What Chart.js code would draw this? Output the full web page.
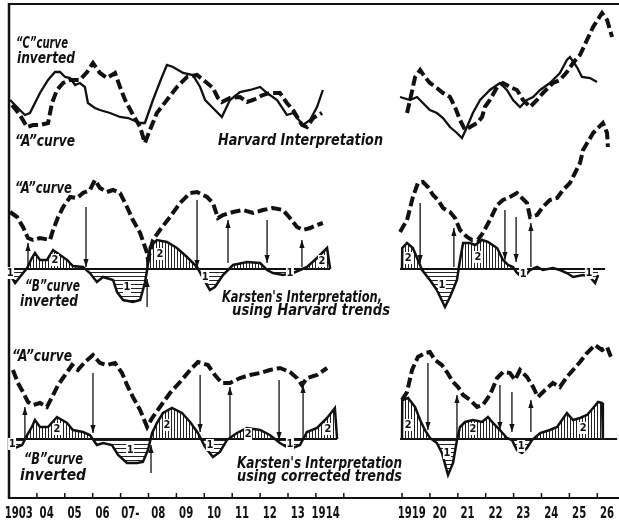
<!DOCTYPE html>
<html>
<head>
<meta charset="utf-8">
<style>
html,body{margin:0;padding:0;background:#fff;}
canvas{display:block;}
</style>
<script src="https://cdn.jsdelivr.net/npm/chart.js@4.4.1/dist/chart.umd.min.js"></script>
</head>
<body>
<canvas id="chart" width="619" height="524"></canvas>
<script>
// year labels along the bottom (two runs, the war years are cut out)
const leftFirstYear = 1903;
const leftYearLabels = ["1903", "04", "05", "06", "07-", "08", "09", "10", "11", "12", "13", "1914"];
const rightFirstYear = 1919;
const rightYearLabels = ["1919", "20", "21", "22", "23", "24", "25", "26"];

// Harvard interpretation: [year, index]
const harvardCLeft = [[1903.04,40],[1903.39,30],[1903.57,25],[1903.75,27],[1904.11,47],[1904.40,60],[1904.65,68],[1904.83,68],[1905.01,63],[1905.19,62],[1905.37,55],[1905.54,57],[1905.72,53],[1905.83,37],[1906.08,32],[1906.26,30],[1906.62,27],[1906.98,23],[1907.27,22],[1907.70,17],[1907.87,17],[1908.16,40],[1908.48,63],[1908.66,75],[1908.88,73],[1909.24,67],[1909.59,65],[1909.85,53],[1910.03,40],[1910.31,32],[1910.63,23],[1910.92,40],[1911.28,48],[1911.64,50],[1912.00,53],[1912.25,47],[1912.61,40],[1912.96,25],[1913.18,27],[1913.54,15],[1913.79,20],[1914.04,33],[1914.25,50]];
const harvardCRight = [[1918.93,43],[1919.29,40],[1919.54,43],[1919.75,37],[1920.00,30],[1920.25,27],[1920.47,22],[1920.72,13],[1920.97,7],[1921.15,2],[1921.33,13],[1921.54,27],[1921.80,40],[1922.15,50],[1922.51,57],[1922.76,50],[1922.98,40],[1923.23,33],[1923.48,40],[1923.70,43],[1923.95,50],[1924.30,57],[1924.66,67],[1924.91,80],[1925.02,83],[1925.27,73],[1925.45,63],[1925.74,62],[1925.99,58]];
const harvardALeft = [[1903.11,35],[1903.39,25],[1903.65,13],[1903.86,15],[1904.11,15],[1904.40,17],[1904.54,37],[1904.72,50],[1904.94,57],[1905.19,60],[1905.54,60],[1905.80,68],[1906.01,77],[1906.26,67],[1906.51,62],[1906.80,67],[1906.98,53],[1907.16,40],[1907.41,27],[1907.70,13],[1907.87,-3],[1908.05,10],[1908.30,27],[1908.66,40],[1909.02,53],[1909.38,63],[1909.74,65],[1910.10,57],[1910.31,52],[1910.49,42],[1910.63,38],[1910.92,42],[1911.28,43],[1911.53,38],[1911.75,40],[1912.10,45],[1912.35,47],[1912.71,47],[1912.96,37],[1913.18,30],[1913.50,15],[1913.68,13],[1913.90,22],[1914.22,27]];
const harvardARight = [[1919.18,27],[1919.29,40],[1919.47,63],[1919.65,70],[1919.82,63],[1920.00,57],[1920.25,52],[1920.47,47],[1920.72,43],[1920.90,33],[1921.08,20],[1921.26,10],[1921.44,13],[1921.69,17],[1921.87,23],[1921.97,33],[1922.15,40],[1922.41,53],[1922.62,57],[1922.87,53],[1923.12,50],[1923.34,40],[1923.59,33],[1923.84,40],[1924.05,47],[1924.41,57],[1924.66,60],[1924.91,68],[1925.13,77],[1925.38,85],[1925.63,100],[1925.85,113],[1926.17,127],[1926.35,120],[1926.53,103]];

// Karsten, using Harvard trends
const hTrendALeft = [[1903.04,57],[1903.29,52],[1903.50,42],[1903.68,31],[1903.86,29],[1904.11,31],[1904.47,29],[1904.58,39],[1904.76,52],[1904.94,62],[1905.19,72],[1905.44,71],[1905.65,76],[1905.90,79],[1906.08,89],[1906.26,81],[1906.51,77],[1906.73,79],[1906.98,76],[1907.23,62],[1907.44,49],[1907.70,36],[1907.95,16],[1907.98,9],[1908.16,29],[1908.41,39],[1908.77,52],[1909.13,66],[1909.49,76],[1909.74,77],[1910.10,72],[1910.31,66],[1910.49,51],[1910.67,54],[1911.03,57],[1911.39,59],[1911.75,56],[1912.10,59],[1912.46,61],[1912.82,59],[1913.07,51],[1913.32,42],[1913.54,39],[1913.79,41],[1914.04,44],[1914.25,46]];
const hTrendARight = [[1918.93,37],[1919.18,49],[1919.39,72],[1919.57,86],[1919.75,87],[1919.93,82],[1920.11,74],[1920.29,69],[1920.47,61],[1920.72,57],[1920.90,51],[1921.08,39],[1921.33,32],[1921.51,29],[1921.72,29],[1921.90,36],[1922.15,49],[1922.41,64],[1922.62,69],[1922.87,72],[1923.12,76],[1923.30,71],[1923.48,66],[1923.59,52],[1923.84,54],[1924.05,62],[1924.30,69],[1924.56,71],[1924.77,79],[1925.02,86],[1925.20,96],[1925.38,106],[1925.49,119],[1925.85,136],[1926.20,146],[1926.35,136],[1926.38,122]];
const hTrendBLeft = [[1903.00,-4],[1903.22,-14],[1903.39,-8],[1903.65,1],[1903.82,11],[1903.93,16],[1904.11,9],[1904.36,9],[1904.58,19],[1904.83,14],[1905.08,9],[1905.29,3],[1905.65,2],[1905.90,-4],[1906.15,-13],[1906.37,-8],[1906.73,-11],[1906.87,-23],[1907.09,-31],[1907.44,-33],[1907.70,-31],[1907.87,-14],[1907.95,-1],[1908.05,22],[1908.30,29],[1908.66,27],[1909.02,21],[1909.38,12],[1909.74,2],[1909.95,-9],[1910.20,-21],[1910.38,-18],[1910.67,-6],[1911.03,4],[1911.53,7],[1912.00,6],[1912.25,-1],[1912.46,-4],[1912.82,-6],[1913.18,-4],[1913.43,-1],[1913.68,2],[1914.04,11],[1914.40,21],[1914.51,0]];
const hTrendBRight = [[1919.00,0],[1919.01,21],[1919.18,26],[1919.39,21],[1919.57,9],[1919.72,-1],[1920.00,-11],[1920.25,-21],[1920.54,-38],[1920.72,-28],[1920.97,-11],[1921.08,9],[1921.19,26],[1921.44,26],[1921.62,24],[1921.87,29],[1922.08,27],[1922.41,21],[1922.62,9],[1922.80,4],[1922.98,2],[1923.12,-4],[1923.34,-9],[1923.59,-1],[1923.84,2],[1924.05,-1],[1924.41,1],[1924.66,-1],[1924.91,-4],[1925.13,-8],[1925.49,-6],[1925.74,-8],[1925.92,-14],[1926.03,-6]];
const hTrendZero = [[1903.00,1914.51],[1918.93,1926.28]];
// arrows: [year, from, to]
const hTrendArrows = [[1903.68,0,26],[1905.76,62,2],[1907.95,-38,-10],[1909.74,69,1],[1910.85,6,49],[1912.25,49,6],[1913.50,2,29],[1919.65,66,6],[1920.86,2,41],[1922.69,59,9],[1923.09,52,7],[1923.62,2,46]];
const hTrendMarks = [[1903.04,-4,"1"],[1904.65,9,"2"],[1907.23,-18,"1"],[1908.41,15,"2"],[1910.03,-8,"1"],[1913.07,-4,"1"],[1914.22,8,"2"],[1919.22,11,"2"],[1920.43,-16,"1"],[1921.72,12,"2"],[1923.34,-5,"1"],[1925.70,-4,"1"]];

// Karsten, using corrected trends
const corrALeft = [[1903.14,69],[1903.32,56],[1903.50,47],[1903.68,37],[1903.86,34],[1904.11,36],[1904.36,32],[1904.58,44],[1904.76,54],[1905.01,64],[1905.26,74],[1905.47,69],[1905.72,77],[1906.01,84],[1906.26,76],[1906.51,74],[1906.80,76],[1907.05,66],[1907.23,54],[1907.44,42],[1907.70,29],[1907.95,12],[1908.13,21],[1908.41,32],[1908.77,46],[1909.13,57],[1909.49,69],[1909.77,77],[1910.13,74],[1910.38,64],[1910.63,56],[1910.92,56],[1911.28,61],[1911.64,64],[1912.00,66],[1912.35,69],[1912.71,71],[1913.07,67],[1913.32,61],[1913.50,54],[1913.68,61],[1914.04,64],[1914.40,71]];
const corrARight = [[1919.00,39],[1919.18,47],[1919.36,69],[1919.57,82],[1919.82,86],[1920.00,87],[1920.18,79],[1920.43,74],[1920.61,67],[1920.83,57],[1921.01,52],[1921.19,44],[1921.44,39],[1921.69,32],[1921.90,34],[1922.15,44],[1922.41,61],[1922.62,67],[1922.87,66],[1923.05,59],[1923.23,69],[1923.48,62],[1923.70,52],[1923.87,42],[1924.13,49],[1924.41,56],[1924.66,52],[1924.91,62],[1925.13,69],[1925.38,77],[1925.63,86],[1925.92,94],[1926.17,89],[1926.35,92],[1926.53,79]];
const corrBLeft = [[1903.00,-7],[1903.22,-9],[1903.47,-6],[1903.65,4],[1903.82,12],[1903.93,19],[1904.11,12],[1904.40,12],[1904.72,22],[1905.08,16],[1905.29,9],[1905.65,7],[1905.90,4],[1906.15,-6],[1906.37,-4],[1906.69,-6],[1906.91,-16],[1907.23,-24],[1907.59,-24],[1907.80,-23],[1907.98,-11],[1908.13,6],[1908.30,16],[1908.52,26],[1908.84,31],[1909.20,26],[1909.49,17],[1909.77,6],[1910.03,-8],[1910.31,-18],[1910.56,-13],[1910.81,-1],[1911.17,6],[1911.53,11],[1912.00,9],[1912.35,4],[1912.71,-4],[1912.96,-8],[1913.18,-9],[1913.43,-6],[1913.68,7],[1914.04,11],[1914.40,21],[1914.68,31],[1914.76,0]];
const corrBRight = [[1919.00,0],[1919.01,39],[1919.22,41],[1919.47,32],[1919.65,19],[1919.82,9],[1920.00,1],[1920.25,-4],[1920.43,-14],[1920.65,-36],[1920.83,-24],[1920.97,-1],[1921.08,12],[1921.26,17],[1921.54,19],[1921.87,17],[1922.08,22],[1922.26,16],[1922.51,9],[1922.76,1],[1922.94,-1],[1923.12,-11],[1923.30,-14],[1923.48,-9],[1923.66,-1],[1923.95,6],[1924.30,9],[1924.56,12],[1924.91,26],[1925.13,19],[1925.38,21],[1925.63,24],[1925.85,31],[1926.03,37],[1926.17,36],[1926.20,0]];
const corrZero = [[1903.00,1914.76],[1918.93,1926.71]];
const corrArrows = [[1903.57,0,32],[1906.01,66,6],[1908.09,-34,-6],[1909.85,64,7],[1910.92,2,52],[1912.68,59,-1],[1913.54,-1,54],[1919.93,76,9],[1920.97,2,44],[1922.51,54,9],[1922.94,47,7],[1923.62,7,39]];
const corrMarks = [[1903.11,-5,"1"],[1904.72,10,"2"],[1907.34,-11,"1"],[1908.66,14,"2"],[1910.20,-6,"1"],[1911.57,5,"2"],[1913.07,-5,"1"],[1914.43,10,"2"],[1919.22,14,"2"],[1920.61,-14,"1"],[1921.54,10,"2"],[1923.27,-7,"1"],[1925.49,11,"2"]];

// panel baselines on the shared y scale
const BASE1 = 384, BASE2 = 255, BASE3 = 85;

// broken time axis: 1915-1918 are left out
function pos(year) {
  return year < 1917 ? year - 1903 : year - 1904.914;
}

function hatch(vertical) {
  const c = document.createElement("canvas");
  c.width = vertical ? 3 : 4;
  c.height = 4;
  const g = c.getContext("2d");
  g.fillStyle = "#222";
  if (vertical) g.fillRect(0, 0, 1, 4);
  else g.fillRect(0, 0, 4, 1);
  return g.createPattern(c, "repeat");
}
const vHatch = hatch(true);
const hHatch = hatch(false);

function pts(arr, base) {
  return arr.map(p => ({ x: pos(p[0]), y: base + p[1] }));
}
function solid(arr, base, w) {
  return { data: pts(arr, base), borderColor: "#111", borderWidth: w, pointRadius: 0, tension: 0, fill: false };
}
function dashed(arr, base) {
  return { data: pts(arr, base), borderColor: "#111", borderWidth: 4, borderDash: [10, 4], borderCapStyle: "butt", pointRadius: 0, tension: 0, fill: false };
}
function bCurve(arr, base) {
  return {
    data: pts(arr, base), borderColor: "#111", borderWidth: 2.5, pointRadius: 0, tension: 0,
    fill: { target: { value: base }, above: vHatch, below: hHatch }
  };
}
function zero(span, base) {
  return { data: [{ x: pos(span[0]), y: base }, { x: pos(span[1]), y: base }], borderColor: "#111", borderWidth: 2, pointRadius: 0, fill: false };
}

const datasets = [
  solid(harvardCLeft, BASE1, 2.3), solid(harvardCRight, BASE1, 2.3),
  dashed(harvardALeft, BASE1), dashed(harvardARight, BASE1),
  dashed(hTrendALeft, BASE2), dashed(hTrendARight, BASE2),
  bCurve(hTrendBLeft, BASE2), bCurve(hTrendBRight, BASE2),
  zero(hTrendZero[0], BASE2), zero(hTrendZero[1], BASE2),
  dashed(corrALeft, BASE3), dashed(corrARight, BASE3),
  bCurve(corrBLeft, BASE3), bCurve(corrBRight, BASE3),
  zero(corrZero[0], BASE3), zero(corrZero[1], BASE3)
];

const TXT = "'DejaVu Sans Condensed', 'DejaVu Sans', sans-serif";

function fitText(ctx, str, left, baseline, width, font) {
  ctx.save();
  ctx.font = font;
  ctx.textAlign = "left";
  ctx.textBaseline = "alphabetic";
  const m = ctx.measureText(str).width || width;
  ctx.translate(left, baseline);
  ctx.scale(width / m, 1);
  ctx.fillText(str, 0, 0);
  ctx.restore();
}

const decor = {
  id: "decor",
  afterDatasetsDraw(chart) {
    const ctx = chart.ctx, xs = chart.scales.x, ys = chart.scales.y;
    const X = yr => xs.getPixelForValue(pos(yr));
    const Y = (base, v) => ys.getPixelForValue(base + v);
    ctx.save();
    ctx.strokeStyle = "#111";
    ctx.fillStyle = "#111";

    // frame and time axis
    const axisY = 498;
    ctx.lineWidth = 2;
    ctx.beginPath(); ctx.moveTo(X(1903) - 1, 4); ctx.lineTo(619, 4); ctx.stroke();
    ctx.beginPath(); ctx.moveTo(X(1903) - 1, axisY); ctx.lineTo(619, axisY); ctx.stroke();
    ctx.lineWidth = 2.5;
    ctx.beginPath(); ctx.moveTo(X(1903), 3); ctx.lineTo(X(1903), axisY + 1); ctx.stroke();
    ctx.lineWidth = 1.5;
    const ticks = [];
    for (let i = 1; i <= leftYearLabels.length; i++) ticks.push(leftFirstYear + i);
    for (let i = 0; i < rightYearLabels.length; i++) ticks.push(rightFirstYear + i);
    ticks.forEach(t => {
      const x = X(t);
      ctx.beginPath(); ctx.moveTo(x, axisY); ctx.lineTo(x, axisY - 5); ctx.stroke();
    });
    ctx.font = "bold 15px " + TXT;
    ctx.textAlign = "center";
    ctx.textBaseline = "alphabetic";
    const drawYear = (lab, yr) => {
      ctx.save();
      ctx.translate(X(yr + 0.35), 518);
      ctx.scale(0.75, 1);
      ctx.fillText(lab, 0, 0);
      ctx.restore();
    };
    leftYearLabels.forEach((lab, i) => drawYear(lab, leftFirstYear + i));
    rightYearLabels.forEach((lab, i) => drawYear(lab, rightFirstYear + i));

    // arrows
    ctx.lineWidth = 1.3;
    const arrows = (list, base) => list.forEach(a => {
      const x = X(a[0]), y1 = Y(base, a[1]), y2 = Y(base, a[2]);
      ctx.beginPath(); ctx.moveTo(x, y1); ctx.lineTo(x, y2); ctx.stroke();
      const d = y2 > y1 ? 1 : -1;
      ctx.beginPath();
      ctx.moveTo(x, y2);
      ctx.lineTo(x - 2.6, y2 - d * 8);
      ctx.lineTo(x + 2.6, y2 - d * 8);
      ctx.closePath(); ctx.fill();
    });
    arrows(hTrendArrows, BASE2);
    arrows(corrArrows, BASE3);

    // phase numbers inside the hatched areas
    ctx.font = "bold 11px " + TXT;
    ctx.textAlign = "center";
    ctx.textBaseline = "middle";
    const marks = (list, base) => list.forEach(m => {
      const x = X(m[0]), y = Y(base, m[1]);
      ctx.fillStyle = "#fff";
      ctx.fillRect(x - 4, y - 6, 8, 12);
      ctx.fillStyle = "#111";
      ctx.fillText(m[2], x, y + 0.5);
    });
    marks(hTrendMarks, BASE2);
    marks(corrMarks, BASE3);

    // captions
    const f = "italic bold 15px " + TXT;
    fitText(ctx, "\u201CC\u201Dcurve", 16, 48, 52, f);
    fitText(ctx, "inverted", 17, 63, 58, f);
    fitText(ctx, "\u201CA\u201Dcurve", 15, 146, 60, f);
    fitText(ctx, "Harvard Interpretation", 218, 145, 165, f);

    fitText(ctx, "\u201CA\u201Dcurve", 15, 193, 57, f);
    fitText(ctx, "\u201CB\u201Dcurve", 25, 291, 55, f);
    fitText(ctx, "inverted", 20, 306, 58, f);
    fitText(ctx, "Karsten's Interpretation,", 222, 302, 160, f);
    fitText(ctx, "using Harvard trends", 232, 315, 158, f);

    fitText(ctx, "\u201CA\u201Dcurve", 12, 361, 60, f);
    fitText(ctx, "\u201CB\u201Dcurve", 24, 464, 59, f);
    fitText(ctx, "inverted", 20, 480, 66, f);
    fitText(ctx, "Karsten's Interpretation", 237, 468, 165, f);
    fitText(ctx, "using corrected trends", 237, 481, 165, f);

    ctx.restore();
  }
};

new Chart(document.getElementById("chart").getContext("2d"), {
  type: "line",
  data: { datasets: datasets },
  options: {
    responsive: false,
    animation: false,
    layout: { padding: 0 },
    plugins: { legend: { display: false }, tooltip: { enabled: false } },
    scales: {
      x: { type: "linear", display: false, min: -9 / 27.9, max: 610 / 27.9 },
      y: { type: "linear", display: false, min: 0, max: 524 }
    }
  },
  plugins: [decor]
});
</script>
</body>
</html>
